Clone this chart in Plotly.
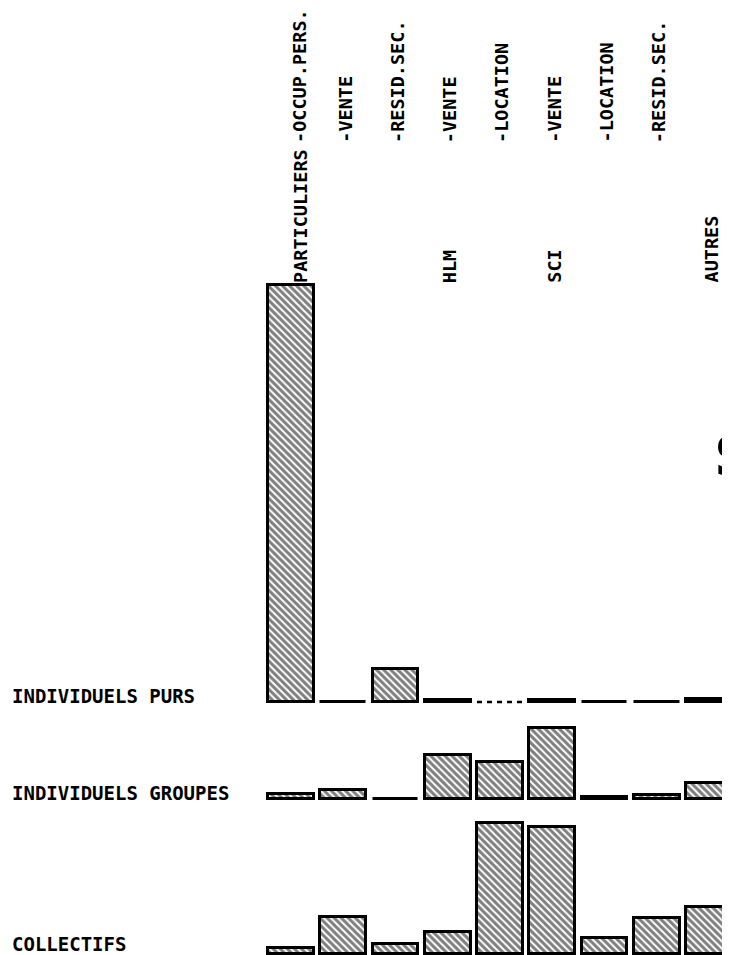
import plotly.graph_objects as go

# ---------------- data ----------------
columns = list(range(9))
group_labels = ["PARTICULIERS", "", "", "HLM", "", "SCI", "", "", "AUTRES"]
sub_labels = ["-OCCUP.PERS.", "-VENTE", "-RESID.SEC.", "-VENTE", "-LOCATION",
              "-VENTE", "-LOCATION", "-RESID.SEC.", ""]
row_labels = ["INDIVIDUELS PURS", "INDIVIDUELS GROUPES", "COLLECTIFS"]
# estimated heights (common scale for all rows); None = no data (dashed)
indiv_purs = [417, 0, 33, 2, None, 2, 0, 0, 3]
indiv_groupes = [5, 9, 0, 44, 37, 71, 2.5, 4, 16]
collectifs = [6, 37, 10, 22, 131, 127, 16, 36, 47]
rows = [indiv_purs, indiv_groupes, collectifs]

# ---------------- layout geometry (screen px) ----------------
SW, SH = 730, 955
M = 8                                  # default HTML body margin
FW, FH = SW - M, SH - M                # figure size so it fills the window
X0_PX, STEP_PX = 291, 52.25            # centre of first column, column pitch
BAR_W = 0.88
baselines = [702, 799, 954]
tops = [280, 722, 818]
GROUP_BOTTOM_PX = 285
SUB_BOTTOM_PX = 145
FONT = "DejaVu Sans Mono"


def px_x(sx):
    return (sx - M) / FW


def px_y(sy):
    return 1 - (sy - M) / FH


fig = go.Figure()
shapes = []
yaxes = {}
for i, (vals, base, top) in enumerate(zip(rows, baselines, tops)):
    yname = "y" if i == 0 else f"y{i+1}"
    lname = "yaxis" if i == 0 else f"yaxis{i+1}"
    pad = min(4, SH - base)
    yaxes[lname] = dict(domain=[px_y(base + pad), px_y(top)],
                        range=[-pad, base - top], visible=False, fixedrange=True)
    fig.add_trace(go.Bar(
        x=columns, y=vals, xaxis="x", yaxis=yname, width=BAR_W,
        marker=dict(color="white", line=dict(color="black", width=3),
                    pattern=dict(shape="\\", fgcolor="black", bgcolor="white",
                                 size=5, solidity=0.6)),
        hoverinfo="skip", showlegend=False))
    for c, v in zip(columns, vals):
        if v is None:
            shapes.append(dict(type="line", xref="x", yref=yname,
                               x0=c - BAR_W / 2, x1=c + BAR_W / 2, y0=0, y1=0,
                               line=dict(color="black", width=2.5, dash="5px,5px")))

annotations = []
for c, (g, s) in enumerate(zip(group_labels, sub_labels)):
    xs = 9 if c == 0 else 2
    for txt, yb in ((g, GROUP_BOTTOM_PX), (s, SUB_BOTTOM_PX)):
        if txt:
            annotations.append(dict(text=txt, x=c, xref="x", y=px_y(yb),
                                    yref="paper", xanchor="center", yanchor="bottom",
                                    textangle=-90, showarrow=False, xshift=xs,
                                    font=dict(family=FONT, size=18.5, color="black",
                                              weight="bold")))
for lab, base in zip(row_labels, baselines):
    yb = base + 7 if base < 900 else base + 3
    annotations.append(dict(text=lab, x=px_x(10), xref="paper", y=px_y(yb),
                            yref="paper", xanchor="left", yanchor="bottom",
                            showarrow=False,
                            font=dict(family=FONT, size=19, color="black",
                                      weight="bold")))
# cut-off title letter at the right edge
annotations.append(dict(text="S", x=px_x(712), xref="paper", y=px_y(456),
                        yref="paper", xanchor="left", yanchor="middle",
                        showarrow=False,
                        font=dict(family="DejaVu Sans", size=56, color="black",
                                  weight="bold")))

fig.update_layout(
    width=FW, height=FH, margin=dict(l=0, r=0, t=0, b=0),
    paper_bgcolor="white", plot_bgcolor="rgba(0,0,0,0)",
    bargap=0, barmode="overlay",
    xaxis=dict(range=[-(X0_PX - M) / STEP_PX, (FW - (X0_PX - M)) / STEP_PX],
               visible=False, domain=[0, 1], anchor="y3", fixedrange=True),
    shapes=shapes, annotations=annotations, showlegend=False,
    **yaxes,
)

fig.write_html("out.html", config={"displayModeBar": False})
